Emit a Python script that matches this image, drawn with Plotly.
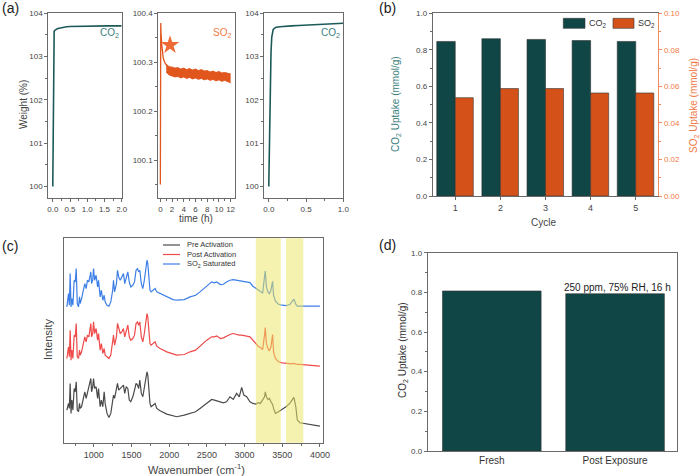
import plotly.graph_objects as go

# ---------------- DATA ----------------
# (a) TGA traces
t_co2_first = [0.0, 0.005, 0.01, 0.015, 0.02, 0.025, 0.03, 0.04, 0.05, 0.07, 0.1, 0.15, 0.2, 0.3, 0.4, 0.5, 0.7, 1.0, 1.3, 1.6, 2.0]
w_co2_first = [100.0, 100.8, 101.6, 102.3, 102.9, 103.3, 103.5, 103.58, 103.6, 103.62, 103.63, 103.65, 103.66, 103.68, 103.69, 103.695, 103.70, 103.705, 103.71, 103.71, 103.71]

t_so2_start = [0.0, 0.02, 0.04, 0.07, 0.12, 0.25, 0.5, 0.8, 1.1]
w_so2_start = [100.05, 100.2, 100.36, 100.38, 100.36, 100.335, 100.308, 100.298, 100.293]
t_so2_band = [1.0, 1.5, 2.0, 2.5, 3.0, 3.5, 4.0, 4.5, 5.0, 5.5, 6.0, 6.5, 7.0, 7.5, 8.0, 8.5, 9.0, 9.5, 10.0, 10.5, 11.0, 11.5, 12.0]
w_so2_upper = [100.296, 100.291, 100.290, 100.288, 100.289, 100.286, 100.288, 100.285, 100.287, 100.284, 100.286, 100.283, 100.285, 100.282, 100.283, 100.280, 100.282, 100.279, 100.281, 100.278, 100.279, 100.277, 100.276]
w_so2_lower = [100.280, 100.274, 100.272, 100.270, 100.271, 100.268, 100.270, 100.267, 100.269, 100.266, 100.268, 100.265, 100.267, 100.264, 100.266, 100.263, 100.265, 100.262, 100.264, 100.261, 100.263, 100.260, 100.258]
star_t = [1.65]
star_w = [100.335]

t_co2_second = [0.0, 0.005, 0.01, 0.015, 0.02, 0.03, 0.04, 0.05, 0.06, 0.08, 0.1, 0.15, 0.2, 0.3, 0.4, 0.5, 0.6, 0.7, 0.8, 0.9, 1.0]
w_co2_second = [100.0, 100.6, 101.3, 101.9, 102.5, 103.1, 103.45, 103.58, 103.63, 103.66, 103.68, 103.69, 103.70, 103.71, 103.72, 103.73, 103.74, 103.75, 103.755, 103.76, 103.77]

# (b) cycling
cycles = [1, 2, 3, 4, 5]
co2_uptake = [0.846, 0.861, 0.857, 0.851, 0.846]
so2_uptake = [0.0538, 0.0588, 0.0588, 0.0564, 0.0564]

# (c) IR spectra (stacked, arbitrary intensity units)
wavenumber = [642, 664, 675, 686, 697, 708, 722, 739, 753, 766,
              780, 797, 810, 819, 837, 863, 880, 898, 915, 934,
              950, 960, 970, 985, 996, 1010, 1030, 1050, 1062, 1084,
              1100, 1119, 1137, 1150, 1175, 1200, 1225, 1250, 1261, 1275,
              1300, 1314, 1330, 1350, 1371, 1393, 1410, 1429, 1451, 1470,
              1490, 1517, 1540, 1560, 1579, 1595, 1610, 1630, 1650, 1670,
              1690, 1705, 1716, 1730, 1745, 1760, 1790, 1813, 1835, 1879,
              1968, 2050, 2100, 2200, 2277, 2350, 2409, 2498, 2564, 2600,
              2630, 2680, 2719, 2760, 2807, 2850, 2895, 2930, 2962, 2990,
              3028, 3072, 3110, 3150, 3180, 3210, 3240, 3265, 3275, 3290,
              3310, 3330, 3350, 3372, 3385, 3410, 3450, 3500, 3550, 3600,
              3630, 3655, 3680, 3700, 3735, 3800, 3867, 3920, 4000]
int_so2_saturated = [408, 448, 413, 508, 408, 433, 413, 488, 483, 523,
                     418, 408, 438, 418, 433, 468, 478, 463, 488, 483,
                     498, 513, 478, 488, 523, 488, 503, 468, 488, 438,
                     458, 428, 443, 423, 413, 410, 423, 458, 488, 453,
                     478, 518, 498, 488, 498, 508, 478, 498, 513, 483,
                     468, 473, 483, 518, 523, 513, 518, 478, 463, 488,
                     533, 548, 538, 488, 458, 453, 458, 463, 453, 448,
                     438, 430, 428, 430, 438, 443, 453, 470, 483, 480,
                     483, 475, 476, 483, 488, 490, 488, 486, 486, 485,
                     483, 481, 470, 463, 458, 453, 450, 498, 516, 468,
                     453, 448, 458, 485, 443, 425, 416, 413, 412, 415,
                     423, 431, 416, 410, 410, 410, 411, 412, 410]
int_post_activation = [253, 288, 258, 338, 248, 278, 253, 323, 318, 358,
                       258, 253, 278, 263, 273, 308, 318, 303, 323, 318,
                       338, 358, 318, 328, 363, 328, 343, 308, 328, 278,
                       298, 268, 283, 263, 258, 253, 263, 298, 323, 293,
                       318, 358, 343, 328, 333, 343, 318, 338, 353, 318,
                       308, 313, 323, 358, 363, 353, 363, 318, 303, 328,
                       373, 388, 378, 328, 298, 293, 298, 303, 290, 283,
                       273, 266, 263, 265, 273, 278, 290, 308, 318, 318,
                       321, 313, 315, 320, 325, 328, 325, 323, 323, 321,
                       320, 318, 308, 298, 290, 286, 280, 323, 346, 298,
                       283, 276, 288, 325, 273, 253, 243, 240, 238, 237,
                       237, 238, 236, 235, 235, 234, 233, 232, 230]
int_pre_activation = [98, 118, 103, 178, 88, 128, 98, 163, 153, 183,
                      98, 93, 118, 103, 108, 138, 153, 133, 148, 163,
                      178, 193, 153, 168, 193, 163, 168, 133, 163, 108,
                      128, 108, 153, 118, 88, 76, 88, 128, 143, 133,
                      158, 178, 158, 163, 168, 173, 148, 168, 163, 128,
                      123, 138, 158, 178, 173, 163, 188, 148, 138, 168,
                      203, 213, 203, 153, 118, 108, 113, 118, 103, 96,
                      86, 80, 78, 83, 88, 93, 103, 118, 130, 128,
                      126, 123, 120, 123, 138, 130, 148, 138, 166, 143,
                      138, 123, 118, 116, 120, 118, 128, 138, 153, 138,
                      130, 133, 123, 115, 103, 88, 93, 100, 108, 118,
                      130, 136, 108, 68, 60, 58, 55, 53, 50]
band_starts = [3150, 3550]
band_ends = [3480, 3780]

# (d) stability
samples = ["Fresh", "Post Exposure"]
co2_stability = [0.807, 0.793]

# ---------------- STYLE ----------------
W, H = 700, 476
FONT = "Arial, Liberation Sans, sans-serif"
TEAL = "#1c5a5a"
TEAL_BAR = "#104646"
TEAL_TXT = "#3a8080"
ORANGE = "#e0561c"
ORANGE_BAR = "#d4521a"
ORANGE_TXT = "#f07a45"
AX = "#6a6a6a"
TK = "#444444"


def px(x):
    return x / W


def py(y):
    return 1 - y / H


def base_axis(**kw):
    d = dict(showline=True, linecolor=AX, linewidth=1, mirror=True, ticks="outside",
             ticklen=3, tickcolor=AX, tickfont=dict(size=8, color=TK, family=FONT),
             showgrid=False, zeroline=False, automargin=False)
    d.update(kw)
    return d


fig = go.Figure()

# (a)
fig.add_trace(go.Scatter(x=t_co2_first, y=w_co2_first, mode="lines", line=dict(color=TEAL, width=1.6),
                         xaxis="x", yaxis="y", showlegend=False))
fig.add_trace(go.Scatter(x=t_so2_start, y=w_so2_start, mode="lines", line=dict(color=ORANGE, width=1.3),
                         xaxis="x2", yaxis="y2", showlegend=False))
fig.add_trace(go.Scatter(x=t_so2_band, y=w_so2_lower, mode="lines", line=dict(color=ORANGE, width=1),
                         xaxis="x2", yaxis="y2", showlegend=False))
fig.add_trace(go.Scatter(x=t_so2_band, y=w_so2_upper, mode="lines", line=dict(color=ORANGE, width=1),
                         fill="tonexty", fillcolor=ORANGE, xaxis="x2", yaxis="y2", showlegend=False))
fig.add_trace(go.Scatter(x=star_t, y=star_w, mode="markers",
                         marker=dict(symbol="star", size=14, color="#ee6a35", line=dict(width=0)),
                         xaxis="x2", yaxis="y2", showlegend=False))
fig.add_trace(go.Scatter(x=t_co2_second, y=w_co2_second, mode="lines", line=dict(color=TEAL, width=1.6),
                         xaxis="x3", yaxis="y3", showlegend=False))

# (b)
fig.add_trace(go.Bar(x=cycles, y=co2_uptake, width=0.41, offset=-0.41, marker=dict(color=TEAL_BAR, line=dict(color="#333", width=0.6)),
                     xaxis="x4", yaxis="y4", showlegend=False))
fig.add_trace(go.Bar(x=cycles, y=so2_uptake, width=0.40, offset=0.0, marker=dict(color=ORANGE_BAR, line=dict(color="#333", width=0.6)),
                     xaxis="x4", yaxis="y5", showlegend=False))

# (c)
fig.add_trace(go.Scatter(x=wavenumber, y=int_pre_activation, mode="lines", line=dict(color="#4a4a4a", width=1.2),
                         xaxis="x6", yaxis="y6", showlegend=False))
fig.add_trace(go.Scatter(x=wavenumber, y=int_post_activation, mode="lines", line=dict(color="#ef4a4a", width=1.2),
                         xaxis="x6", yaxis="y6", showlegend=False))
fig.add_trace(go.Scatter(x=wavenumber, y=int_so2_saturated, mode="lines", line=dict(color="#3d7fe6", width=1.2),
                         xaxis="x6", yaxis="y6", showlegend=False))

# (d)
fig.add_trace(go.Bar(x=samples, y=co2_stability, width=0.8, marker=dict(color=TEAL_BAR, line=dict(color="#333", width=0.6)),
                     xaxis="x7", yaxis="y7", showlegend=False))

ya_top, ya_bot = 13.3, 198.3
layout = dict(
    width=W, height=H, margin=dict(l=0, r=0, t=0, b=0), paper_bgcolor="white", plot_bgcolor="white",
    font=dict(family=FONT, color=TK), barmode="overlay", showlegend=False,
    xaxis=base_axis(domain=[px(48.3), px(121.7)], range=[-0.13, 2.0], dtick=0.5, tickformat=".1f",
                    minor=dict(dtick=0.25, ticks="outside", ticklen=2, tickcolor=AX), anchor="y"),
    yaxis=base_axis(domain=[py(ya_bot), py(ya_top)], range=[99.73, 104.0], dtick=1,
                    minor=dict(dtick=0.5, ticks="outside", ticklen=2, tickcolor=AX), anchor="x"),
    xaxis2=base_axis(domain=[px(158.3), px(235)], range=[-0.35, 12.75], dtick=2,
                     minor=dict(dtick=1, ticks="outside", ticklen=2, tickcolor=AX), anchor="y2"),
    yaxis2=base_axis(domain=[py(ya_bot), py(ya_top)], range=[100.022, 100.4], dtick=0.1, tickformat=".1f",
                     minor=dict(dtick=0.05, ticks="outside", ticklen=2, tickcolor=AX), anchor="x2"),
    xaxis3=base_axis(domain=[px(264.3), px(343.3)], range=[-0.06, 1.0], dtick=0.5, tickformat=".1f",
                     minor=dict(dtick=0.25, ticks="outside", ticklen=2, tickcolor=AX), anchor="y3"),
    yaxis3=base_axis(domain=[py(ya_bot), py(ya_top)], range=[99.73, 104.0], dtick=1,
                     minor=dict(dtick=0.5, ticks="outside", ticklen=2, tickcolor=AX), anchor="x3"),
    xaxis4=base_axis(domain=[px(432.7), px(658.3)], range=[0.5, 5.5], dtick=1, anchor="y4",
                     tickfont=dict(size=9, color=TK, family=FONT)),
    yaxis4=base_axis(domain=[py(196), py(13.3)], range=[0, 1.0], dtick=0.2, tickformat=".1f", mirror=False,
                     minor=dict(dtick=0.1, ticks="outside", ticklen=2, tickcolor=AX), anchor="x4"),
    yaxis5=base_axis(domain=[py(196), py(13.3)], range=[0, 0.10], dtick=0.02, tickformat=".2f", mirror=False,
                     overlaying="y4", side="right", anchor="x4", linecolor="#f08a5a", tickcolor="#f08a5a",
                     tickfont=dict(size=8, color=ORANGE_TXT, family=FONT),
                     minor=dict(dtick=0.01, ticks="outside", ticklen=2, tickcolor="#f08a5a")),
    xaxis6=base_axis(domain=[px(63.7), px(323.3)], range=[600, 4045], dtick=500, anchor="y6",
                     tickfont=dict(size=9, color=TK, family=FONT),
                     minor=dict(dtick=250, ticks="outside", ticklen=2, tickcolor=AX)),
    yaxis6=base_axis(domain=[py(442.7), py(238.3)], range=[0, 614], showticklabels=False, ticks="", anchor="x6"),
    xaxis7=base_axis(domain=[px(427.7), px(676.7)], range=[-0.52, 1.5], ticks="", anchor="y7",
                     tickfont=dict(size=10, color="#333", family=FONT)),
    yaxis7=base_axis(domain=[py(451), py(252.7)], range=[0, 1.0], dtick=0.2, tickformat=".1f", anchor="x7",
                     minor=dict(dtick=0.1, ticks="outside", ticklen=2, tickcolor=AX)),
)
fig.update_layout(**layout)

shapes = []
for s, e in zip(band_starts, band_ends):
    shapes.append(dict(type="rect", xref="x6", yref="y6 domain", x0=s, x1=e, y0=0, y1=1,
                       fillcolor="rgba(236,228,100,0.52)", line=dict(width=0), layer="above"))
# legend swatches (b)
shapes.append(dict(type="rect", xref="paper", yref="paper", x0=px(563.3), x1=px(585), y0=py(28.3), y1=py(18.3),
                   fillcolor=TEAL_BAR, line=dict(color="#333", width=0.6)))
shapes.append(dict(type="rect", xref="paper", yref="paper", x0=px(613), x1=px(634), y0=py(28.3), y1=py(18.3),
                   fillcolor=ORANGE_BAR, line=dict(color="#333", width=0.6)))
# legend lines (c)
for yy, col in [(245, "#4a4a4a"), (254.5, "#ef4a4a"), (264, "#3d7fe6")]:
    shapes.append(dict(type="line", xref="paper", yref="paper", x0=px(163), x1=px(180), y0=py(yy), y1=py(yy),
                       line=dict(color=col, width=1.2)))
fig.update_layout(shapes=shapes)


def ann(text, x, y, size=10, color=TK, angle=0, xanchor="center", yanchor="middle"):
    return dict(text=text, x=px(x), y=py(y), xref="paper", yref="paper", showarrow=False,
                font=dict(size=size, color=color, family=FONT), textangle=angle,
                xanchor=xanchor, yanchor=yanchor)


annotations = [
    ann("(a)", 0, 8, size=14, color="#222", xanchor="left"),
    ann("(b)", 377, 8, size=14, color="#222", xanchor="left"),
    ann("(c)", 0, 246, size=14, color="#222", xanchor="left"),
    ann("(d)", 377, 245, size=14, color="#222", xanchor="left"),
    ann("Weight (%)", 23, 105, size=10, angle=-90),
    ann("time (h)", 196, 219, size=10),
    ann("CO<sub>2</sub>", 121, 33, size=10, color=TEAL_TXT, xanchor="right"),
    ann("SO<sub>2</sub>", 233, 33, size=10, color=ORANGE_TXT, xanchor="right"),
    ann("CO<sub>2</sub>", 342, 33, size=10, color=TEAL_TXT, xanchor="right"),
    ann("CO<sub>2</sub> Uptake (mmol/g)", 396, 104, size=10, color=TEAL_TXT, angle=-90),
    ann("SO<sub>2</sub> Uptake (mmol/g)", 694, 106, size=10, color=ORANGE_TXT, angle=-90),
    ann("Cycle", 543, 222, size=10),
    ann("CO<sub>2</sub>", 587, 23, size=9, color="#333", xanchor="left"),
    ann("SO<sub>2</sub>", 636, 23, size=9, color="#333", xanchor="left"),
    ann("Pre Activation", 185, 245, size=7.5, color="#333", xanchor="left"),
    ann("Post Activation", 185, 254.5, size=7.5, color="#333", xanchor="left"),
    ann("SO<sub>2</sub> Saturated", 185, 264, size=7.5, color="#333", xanchor="left"),
    ann("Intensity", 48, 340, size=11, angle=-90),
    ann("Wavenumber (cm<sup>-1</sup>)", 196, 469, size=11),
    ann("CO<sub>2</sub> Uptake (mmol/g)", 403, 350, size=10, color="#333", angle=-90),
    ann("250 ppm, 75% RH, 16 h", 617, 287, size=10, color="#222"),
]
fig.update_layout(annotations=annotations)

fig.write_html("out.html")
